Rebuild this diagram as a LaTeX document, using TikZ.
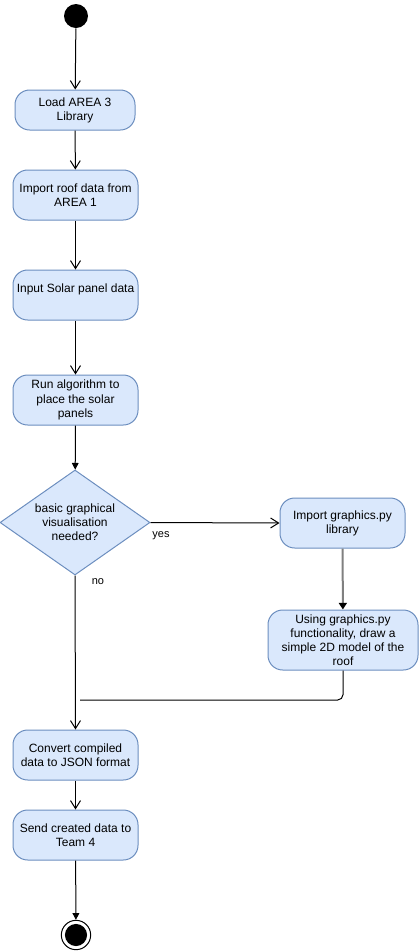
\documentclass[tikz,border=0pt]{standalone}
\usepackage{fontspec}
\setmainfont{Liberation Sans}
\usetikzlibrary{arrows.meta,shapes.geometric}
\definecolor{actfill}{HTML}{DAE8FC}
\definecolor{actline}{HTML}{6C8EBF}
\begin{document}
\begin{tikzpicture}[x=0.75pt,y=-0.75pt,
  act/.style={draw=actline,fill=actfill,rounded corners=11pt,line width=0.75pt,
    align=center,font=\fontsize{9pt}{10.6pt}\selectfont,inner sep=1pt,
    minimum width=93.75pt,minimum height=37.5pt},
  dec/.style={diamond,draw=actline,fill=actfill,line width=0.75pt,inner sep=0pt,
    minimum width=112.5pt,minimum height=78.75pt},
  lbl/.style={font=\fontsize{8.25pt}{10pt}\selectfont},
  flow/.style={line width=0.75pt,-{Straight Barb[length=6pt,width=7.5pt]}},
  flowf/.style={line width=0.75pt,-{Triangle[length=5pt,width=5pt]}},
  plain/.style={line width=0.75pt}]
\useasboundingbox (0,0) rectangle (419,951);

\node[circle,fill=black,minimum size=18pt,inner sep=0pt] (start) at (76,16) {};
\node[act,minimum width=90pt,minimum height=30pt] (n1) at (75,110) {Load AREA 3\\Library};
\node[act] (n2) at (75.5,195) {Import roof data from\\AREA 1};
\node[act] (n3) at (75.5,295) {Input Solar panel data\\~};
\node[act] (n4) at (75.5,400) {Run algorithm to\\place the solar\\panels};
\node[dec,label={[align=center,font=\fontsize{9pt}{10.6pt}\selectfont]center:basic graphical\\visualisation\\needed?}] (d) at (75,522.5) {};
\node[act] (g1) at (342.5,523) {Import graphics.py\\library};
\node[act,minimum width=112.5pt,minimum height=45pt] (g2) at (343,640) {Using graphics.py\\functionality, draw a\\simple 2D model of the\\roof};
\node[act] (c) at (75.5,755) {Convert compiled\\data to JSON format};
\node[act] (s) at (75.5,835) {Send created data to\\Team 4};
\node[circle,draw=black,fill=white,line width=0.75pt,minimum size=22pt,inner sep=0pt,
  path picture={\fill[black] (path picture bounding box.center) circle (8.3pt);}] (e) at (76,935) {};

\coordinate (jr) at (343,700);
\coordinate (jl) at (80,700);

\draw[flow] (start) -- (n1);
\draw[flow] (n1) -- (n2);
\draw[flow] (n2) -- (n3);
\draw[flow] (n3) -- (n4);
\draw[flowf] (n4) -- (d);
\draw[flow] (d.east) -- (g1.west);
\node[lbl] (yeslbl) at (161,536) {yes};
\draw[line width=1.5pt,draw=black!50,-{Triangle[length=5pt,width=6pt,color=black]}] (g1) -- (g2);
\draw[plain,rounded corners=4pt] (g2.south) -- (jr) -- (jl);
\draw[flow] (d.south) -- (c.north);
\node[lbl] (nolbl) at (98,582) {no};
\draw[flow] (c) -- (s);
\draw[flowf] (s) -- (e);
\end{tikzpicture}
\end{document}
